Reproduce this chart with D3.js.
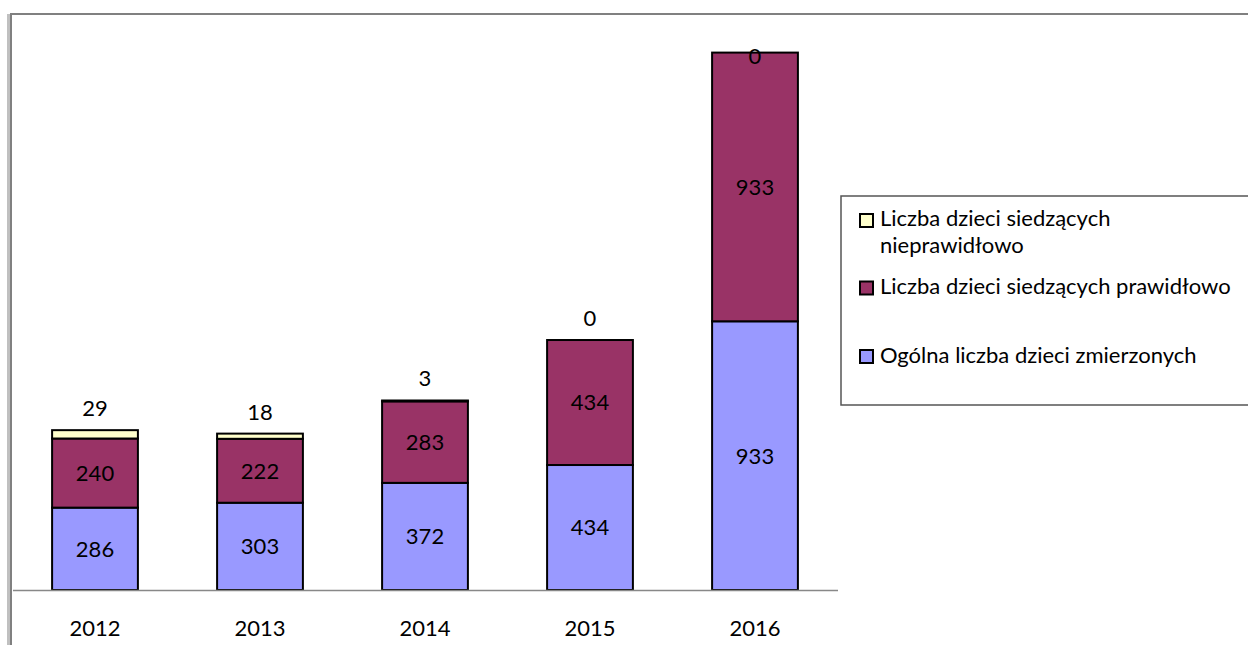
<!DOCTYPE html>
<html>
<head>
<meta charset="utf-8">
<script src="https://cdn.jsdelivr.net/npm/d3@7"></script>
<style>
  html, body { margin: 0; padding: 0; background: #fff; }
  svg { display: block; font-family: Lato, "Open Sans", sans-serif; }
</style>
</head>
<body>
<svg id="chart" width="1248" height="645"></svg>
<script>
// Years on the category axis
const years = ["2012", "2013", "2014", "2015", "2016"];

// Series, stacked bottom to top
const ogolna = [286, 303, 372, 434, 933];        // Ogólna liczba dzieci zmierzonych
const prawidlowo = [240, 222, 283, 434, 933];    // Liczba dzieci siedzących prawidłowo
const nieprawidlowo = [29, 18, 3, 0, 0];          // Liczba dzieci siedzących nieprawidłowo

const seriesNames = [
  "Ogólna liczba dzieci zmierzonych",
  "Liczba dzieci siedzących prawidłowo",
  "Liczba dzieci siedzących nieprawidłowo"
];
const seriesColors = ["#9999FF", "#993366", "#FFFFCC"];

const yMax = 2000;

const svg = d3.select("#chart");

// Outer chart frame (left shaded edge and top rule)
svg.append("rect").attr("x", 7).attr("y", 14).attr("width", 3).attr("height", 631).attr("fill", "#c0c0c0");
svg.append("rect").attr("x", 10).attr("y", 13).attr("width", 2).attr("height", 632).attr("fill", "#808080");
svg.append("rect").attr("x", 10).attr("y", 13).attr("width", 1238).attr("height", 2).attr("fill", "#808080");

const plot = { left: 12.5, right: 837.5, top: 14, bottom: 590 };

const x = d3.scaleBand()
  .domain(years)
  .range([plot.left, plot.right])
  .paddingInner(0.48)
  .paddingOuter(0.24);

const y = d3.scaleLinear()
  .domain([0, yMax])
  .range([plot.bottom, plot.top]);

// Build stacked layers
const rows = years.map((yr, i) => ({
  year: yr,
  s0: ogolna[i],
  s1: prawidlowo[i],
  s2: nieprawidlowo[i]
}));
const stack = d3.stack().keys(["s0", "s1", "s2"]);
const layers = stack(rows);

const g = svg.append("g");

layers.forEach((layer, li) => {
  g.selectAll(null)
    .data(layer)
    .join("rect")
    .attr("x", d => x(d.data.year))
    .attr("y", d => y(d[1]))
    .attr("width", x.bandwidth())
    .attr("height", d => y(d[0]) - y(d[1]))
    .attr("fill", seriesColors[li])
    .attr("stroke", "#000")
    .attr("stroke-width", 2);
});

// Category axis
const xAxis = d3.axisBottom(x).tickSize(0).tickPadding(0);
const axisG = svg.append("g").attr("transform", `translate(0,${plot.bottom})`).call(xAxis);
axisG.select(".domain").attr("stroke", "#888").attr("stroke-width", 1.5);
axisG.selectAll("text")
  .attr("dy", null)
  .attr("y", 46)
  .attr("font-family", "Lato, sans-serif")
  .attr("font-size", 22)
  .attr("fill", "#000");

// Value labels inside the two lower segments
[0, 1].forEach(li => {
  g.selectAll(null)
    .data(layers[li])
    .join("text")
    .attr("x", d => x(d.data.year) + x.bandwidth() / 2)
    .attr("y", d => (y(d[0]) + y(d[1])) / 2)
    .attr("dy", "0.36em")
    .attr("text-anchor", "middle")
    .attr("font-size", 22)
    .attr("fill", "#000")
    .text(d => d[1] - d[0]);
});

// Labels of the top segment sit above each stack
g.selectAll(null)
  .data(layers[2])
  .join("text")
  .attr("x", d => x(d.data.year) + x.bandwidth() / 2)
  .attr("y", d => Math.max(y(d[1]) - 22, 56))
  .attr("dy", "0.36em")
  .attr("text-anchor", "middle")
  .attr("font-size", 22)
  .attr("fill", "#000")
  .text(d => d[1] - d[0]);

// Legend
const legend = svg.append("g");
legend.append("rect")
  .attr("x", 841).attr("y", 196).attr("width", 420).attr("height", 209)
  .attr("fill", "#fff").attr("stroke", "#555").attr("stroke-width", 1.5);

const legendItems = [
  { color: seriesColors[2], lines: ["Liczba dzieci siedzących", "nieprawidłowo"], cy: 220.5, base: 226 },
  { color: seriesColors[1], lines: [seriesNames[1]], cy: 288, base: 294 },
  { color: seriesColors[0], lines: [seriesNames[0]], cy: 356.5, base: 363 }
];
legendItems.forEach(item => {
  legend.append("rect")
    .attr("x", 860).attr("y", item.cy - 6.5).attr("width", 13).attr("height", 13)
    .attr("fill", item.color).attr("stroke", "#000").attr("stroke-width", 2);
  item.lines.forEach((ln, k) => {
    legend.append("text")
      .attr("x", 880).attr("y", item.base + k * 27)
      .attr("font-size", 22)
      .attr("fill", "#000")
      .text(ln);
  });
});
</script>
</body>
</html>
